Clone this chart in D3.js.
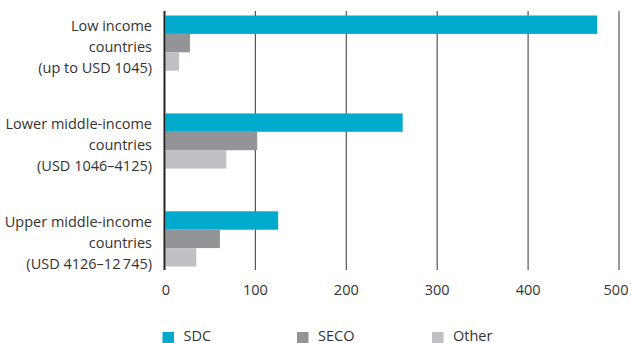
<!DOCTYPE html>
<html>
<head>
<meta charset="utf-8">
<script src="https://cdn.jsdelivr.net/npm/d3@7"></script>
<style>
  html, body { margin: 0; padding: 0; background: #fff; }
  svg { display: block; }
  text { font-family: "Open Sans", "Noto Sans", sans-serif; fill: #333; }
</style>
</head>
<body>
<svg id="chart" width="631" height="343"></svg>
<script>
const categories = [
  ["Low income", "countries", "(up to USD 1045)"],
  ["Lower middle-income", "countries", "(USD 1046\u20134125)"],
  ["Upper middle-income", "countries", "(USD 4126\u201312\u2009745)"]
];
const seriesNames = ["SDC", "SECO", "Other"];
const sdc = [476, 262, 125];
const seco = [28, 102, 61];
const other = [16, 68, 35];
const xTicks = [0, 100, 200, 300, 400, 500];
const colors = ["#00aacd", "#939498", "#bfc0c4"];

const series = [sdc, seco, other];
const svg = d3.select("#chart");
const fs = 14.5;

const x = d3.scaleLinear().domain([0, 500]).range([164.5, 619]);
const y0 = d3.scaleBand().domain(d3.range(categories.length)).range([15.5, 266.5]).paddingInner(0.436).paddingOuter(0);
const y1 = d3.scaleBand().domain(d3.range(seriesNames.length)).range([0, y0.bandwidth()]);

// gridlines
svg.append("g").selectAll("line").data(xTicks.filter(d => d > 0)).join("line")
  .attr("x1", d => x(d)).attr("x2", d => x(d))
  .attr("y1", 11).attr("y2", 270)
  .attr("stroke", "#555").attr("stroke-width", 1.2);

// bars
const groups = svg.append("g").selectAll("g").data(categories).join("g")
  .attr("transform", (d, i) => `translate(0,${y0(i)})`);
groups.selectAll("rect").data((d, i) => series.map((s, j) => ({ v: s[i], j })))
  .join("rect")
  .attr("x", x(0) + 1)
  .attr("y", d => y1(d.j))
  .attr("width", d => x(d.v) - x(0) - 1)
  .attr("height", y1.bandwidth())
  .attr("fill", d => colors[d.j]);

// zero axis line
svg.append("line").attr("x1", x(0)).attr("x2", x(0)).attr("y1", 11).attr("y2", 270)
  .attr("stroke", "#222").attr("stroke-width", 2);

// category labels
groups.append("text")
  .attr("text-anchor", "end")
  .attr("font-size", fs)
  .selectAll("tspan").data(d => d).join("tspan")
  .attr("x", 152)
  .attr("y", (d, k) => 15.5 + k * 21)
  .text(d => d);

// x tick labels
svg.append("g").selectAll("text").data(xTicks).join("text")
  .attr("x", d => x(d) + (d === 0 ? 1.5 : d === 500 ? -3 : 0))
  .attr("y", 295)
  .attr("text-anchor", "middle")
  .attr("font-size", fs)
  .text(d => d);

// legend
const legendX = [162.5, 297, 432];
const lg = svg.append("g").selectAll("g").data(seriesNames).join("g")
  .attr("transform", (d, i) => `translate(${legendX[i]},0)`);
lg.append("rect").attr("x", 0).attr("y", 332).attr("width", 11.5).attr("height", 11.5)
  .attr("fill", (d, i) => colors[i]);
lg.append("text").attr("x", 21).attr("y", 340.5).attr("font-size", fs).text(d => d);
</script>
</body>
</html>
